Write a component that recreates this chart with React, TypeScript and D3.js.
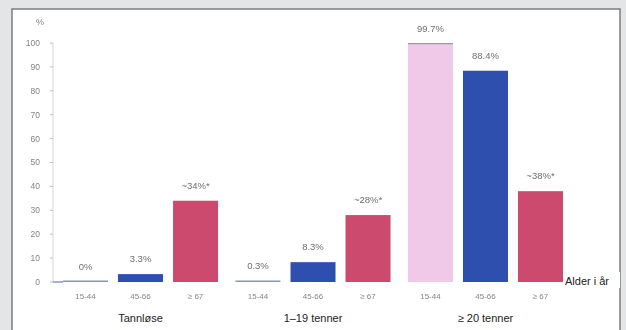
import React from "react";
import * as d3 from "d3";

const groups = ["Tannløse", "1–19 tenner", "≥ 20 tenner"];
const ageLabels = [
  ["15-44", "45-66", "≥ 67"],
  ["15-44", "45-66", "≥ 67"],
  ["15-44", "45-66", "≥ 67"],
];
const values = [
  [0, 3.3, 34],
  [0.3, 8.3, 28],
  [99.7, 88.4, 38],
];
const valueLabels = [
  ["0%", "3.3%", "~34%*"],
  ["0.3%", "8.3%", "~28%*"],
  ["99.7%", "88.4%", "~38%*"],
];
const barColors = [
  ["#8a97b8", "#2f4fae", "#cc4a6d"],
  ["#8a97b8", "#2f4fae", "#cc4a6d"],
  ["#f1c9e8", "#2f4fae", "#cc4a6d"],
];
const yTicks = [0, 10, 20, 30, 40, 50, 60, 70, 80, 90, 100];

const W = 626;
const H = 330;

export default function App() {
  const y = d3.scaleLinear().domain([0, 100]).range([282, 43]);
  const xGroup = d3
    .scaleBand<number>()
    .domain(d3.range(groups.length))
    .range([63, 563])
    .paddingInner(0.101)
    .paddingOuter(0);
  const xBar = d3
    .scaleBand<number>()
    .domain([0, 1, 2])
    .range([0, xGroup.bandwidth()])
    .paddingInner(0.1818)
    .paddingOuter(0);

  const faint = "#858585";
  const font = "Liberation Sans, Arial, sans-serif";

  return (
    <svg
      width={W}
      height={H}
      style={{ position: "absolute", left: 0, top: 0 }}
      fontFamily={font}
    >
      <defs>
        <filter id="soft" x="-10%" y="-30%" width="120%" height="160%">
          <feGaussianBlur stdDeviation="0.55" />
        </filter>
      </defs>
      <rect x={0} y={0} width={W} height={H} fill="#e4e5e7" />
      <rect x={12} y={9} width={608} height={330} fill="#ffffff" stroke="#7d7d7d" strokeWidth={1.5} />

      {/* y axis */}
      <g filter="url(#soft)">
        <line x1={53} x2={53} y1={y(100)} y2={y(0)} stroke="#d6d6d6" strokeWidth={1} />
        {yTicks.map((t) => (
          <g key={t}>
            <line x1={50} x2={53} y1={y(t)} y2={y(t)} stroke="#bdbdbd" />
            <text
              x={40}
              y={y(t)}
              dy="0.35em"
              textAnchor="end"
              fontSize={8.5}
              fill={faint}
            >
              {t}
            </text>
          </g>
        ))}
        <text x={40} y={25} textAnchor="middle" fontSize={9} fill={faint}>
          %
        </text>
        <line x1={53} x2={63} y1={y(0)} y2={y(0)} stroke="#8a97b8" strokeWidth={1.5} />
      </g>

      {groups.map((g, gi) => {
        const gx = xGroup(gi) as number;
        return (
          <g key={g} transform={`translate(${gx},0)`}>
            {values[gi].map((v, bi) => {
              const bx = xBar(bi) as number;
              const top = y(v);
              const h = Math.max(y(0) - top, 1.5);
              return (
                <g key={bi}>
                  <rect
                    x={bx}
                    y={y(0) - h}
                    width={xBar.bandwidth()}
                    height={h}
                    fill={barColors[gi][bi]}
                  />
                  {v > 90 && (
                    <line
                      x1={bx}
                      x2={bx + xBar.bandwidth()}
                      y1={top}
                      y2={top}
                      stroke="#9a9a9a"
                      strokeWidth={1.2}
                    />
                  )}
                  <g filter="url(#soft)">
                    <text
                      x={bx + xBar.bandwidth() / 2}
                      y={top - 12}
                      textAnchor="middle"
                      fontSize={9.5}
                      fill="#6f6f6f"
                    >
                      {valueLabels[gi][bi]}
                    </text>
                    <text
                      x={bx + xBar.bandwidth() / 2}
                      y={299}
                      textAnchor="middle"
                      fontSize={8}
                      fill={faint}
                    >
                      {ageLabels[gi][bi]}
                    </text>
                  </g>
                </g>
              );
            })}
            <text
              x={xGroup.bandwidth() / 2}
              y={322}
              textAnchor="middle"
              fontSize={11}
              fill="#222"
            >
              {g}
            </text>
          </g>
        );
      })}

      <rect x={563} y={272} width={57} height={16} fill="#ffffff" />
      <text x={565} y={285} fontSize={11} fill="#222">
        Alder i år
      </text>
    </svg>
  );
}
